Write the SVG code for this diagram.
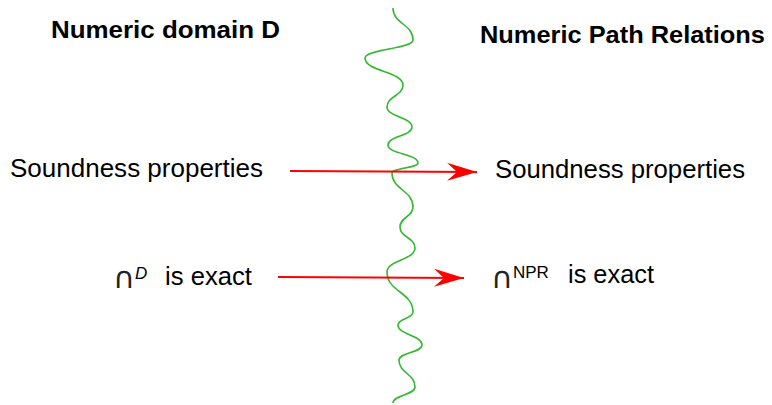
<svg xmlns="http://www.w3.org/2000/svg" width="772" height="405" viewBox="0 0 772 405">
<style>
.title{font-family:"Liberation Sans",Arial,sans-serif;font-weight:bold;font-size:23px;fill:#000}
.lbl{font-family:"Liberation Sans",Arial,sans-serif;font-size:25px;fill:#000}
.cap{font-family:"DejaVu Sans","Liberation Sans",sans-serif;font-size:30px;fill:#222}
.sup{font-family:"Liberation Sans",Arial,sans-serif;font-size:17px;fill:#000}
.arrow{stroke:#ff0000;stroke-width:2;fill:none;marker-end:url(#ah)}
.wave{stroke:#33b833;stroke-width:1.6;fill:none}
</style>
<defs>
<marker id="ah" markerUnits="userSpaceOnUse" viewBox="-31 -10 33 20" refX="0" refY="0" markerWidth="33" markerHeight="20" orient="auto">
<path d="M0,0 L-30,-9 L-20,0 L-30,9 Z" fill="#ff0000"/>
</marker>
</defs>
<rect width="772" height="405" fill="#fff"/>
<g id="title-left"><text class="title" x="51" y="38" textLength="229" lengthAdjust="spacingAndGlyphs">Numeric domain D</text></g>
<g id="title-right"><text class="title" x="480" y="43" textLength="285" lengthAdjust="spacingAndGlyphs">Numeric Path Relations</text></g>
<g id="wave"><path class="wave" d="M393,8 C393,24 413,24 413,40 C413,49 365,49 365,58 C365,71.5 403,71.5 403,85 C403,96 387,96 387,107 C387,117 412,117 412,127 C412,136 388,136 388,145 C388,154 418,154 418,163 C418,168 392,168 392,173 C392,190 413,190 413,207 C413,217 400,217 400,227 C400,237.5 415,237.5 415,248 C415,260 387,260 387,272 C387,292 413,292 413,312 C413,318.5 398,318.5 398,325 C398,335 422,335 422,345 C422,352.5 399,352.5 399,360 C399,373.5 415,373.5 415,387 C415,395 393,395 393,403"/></g>
<g id="sound-left"><text class="lbl" x="10" y="177" textLength="253" lengthAdjust="spacingAndGlyphs">Soundness properties</text></g>
<g id="sound-right"><text class="lbl" x="495" y="178" textLength="250" lengthAdjust="spacingAndGlyphs">Soundness properties</text></g>
<g id="exact-left"><text class="cap" x="113" y="288">∩</text><text class="sup" x="135" y="279" font-style="italic">D</text><text class="lbl" x="165" y="285" textLength="87" lengthAdjust="spacingAndGlyphs">is exact</text></g>
<g id="exact-right"><text class="cap" x="491" y="288">∩</text><text class="sup" x="513" y="278">NPR</text><text class="lbl" x="568" y="283" textLength="86" lengthAdjust="spacingAndGlyphs">is exact</text></g>
<g id="connectors">
<path class="arrow" d="M290,171 L477,172"/>
<path class="arrow" d="M278,277 L464,278"/>
</g>
</svg>
